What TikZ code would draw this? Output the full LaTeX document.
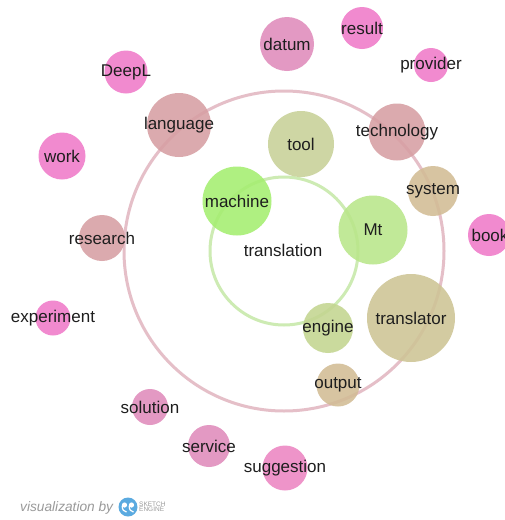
\documentclass[tikz,border=0pt]{standalone}
\usepackage{fontspec}
\setmainfont{Liberation Sans}
\definecolor{pinkA}{HTML}{F07AC9}
\definecolor{pinkB}{HTML}{E08BBB}
\definecolor{pinkC}{HTML}{EC86C2}
\definecolor{roseC}{HTML}{D79FA3}
\definecolor{tanC}{HTML}{D2BC95}
\definecolor{khakiC}{HTML}{CEC495}
\definecolor{oliveC}{HTML}{C8D198}
\definecolor{engC}{HTML}{C3D590}
\definecolor{mtC}{HTML}{B9E68A}
\definecolor{machC}{HTML}{A5EE70}
\definecolor{innerC}{HTML}{CDEBB3}
\definecolor{outerC}{HTML}{E5BFC8}
\definecolor{txtC}{HTML}{1E1E1E}
\definecolor{footC}{HTML}{9A9A9A}
\definecolor{logoC}{HTML}{5AAAE0}
\tikzset{
  lbl/.style={font=\fontsize{17}{20}\selectfont, text=txtC, inner sep=0pt},
  ring/.style={line width=3pt, fill=none},
  bubfill/.style={fill opacity=0.88},
}
\begin{document}
\begin{tikzpicture}[x=1pt,y=-1pt]
\useasboundingbox[fill=white] (0,0) rectangle (505,520);
% rings
\draw[ring, draw=outerC] (284,251) circle (160);
\draw[ring, draw=innerC] (284,251) circle (74);
% bubble discs
\foreach \x/\y/\r/\c in {287/44/27/pinkB, 362/28/21/pinkA, 431/65/17/pinkA, 126/72/21.5/pinkA,
  179/125/32/roseC, 301/144/33/oliveC, 397/132/28.5/roseC, 62/156/23.5/pinkA,
  433/191/25/tanC, 237/201/34.5/machC, 373/230/34.5/mtC, 489/235/21/pinkA,
  102/238/23/roseC, 53/318/17.5/pinkA, 411/318/44/khakiC, 328/328/25/engC,
  338/385/21.5/tanC, 150/407/18/pinkB, 209/446/21/pinkB, 285/468/22.5/pinkC}
  \fill[\c, bubfill] (\x,\y) circle (\r);
% labels
\node[lbl] (datum) at (287,44) {datum};
\node[lbl] (result) at (362,28) {result};
\node[lbl] (provider) at (431,65) {provider};
\node[lbl] (deepl) at (126,72) {DeepL};
\node[lbl] (language) at (179,125) {language};
\node[lbl] (tool) at (301,144) {tool};
\node[lbl] (technology) at (397,132) {technology};
\node[lbl] (work) at (62,156) {work};
\node[lbl] (system) at (433,191) {system};
\node[lbl] (machine) at (237,201) {machine};
\node[lbl] (mt) at (373,230) {Mt};
\node[lbl] (book) at (490,235) {book};
\node[lbl] (research) at (102,238) {research};
\node[lbl] (translation) at (283,250) {translation};
\node[lbl] (experiment) at (53,318) {experiment};
\node[lbl] (translator) at (411,318) {translator};
\node[lbl] (engine) at (328,328) {engine};
\node[lbl] (output) at (338,385) {output};
\node[lbl] (solution) at (150,407) {solution};
\node[lbl] (service) at (209,446) {service};
\node[lbl] (suggestion) at (285,468) {suggestion};
% footer
\node[font=\fontsize{13.7}{16}\selectfont\itshape, text=footC, anchor=west, inner sep=0pt] (foot) at (20,508) {visualization by};
\fill[logoC] (128,507) circle (9.5);
\fill[white] (124.5,505) circle (2.6);
\fill[white] (131.5,505) circle (2.6);
\draw[white, line width=1.2pt] (122.2,505.5) .. controls (122,510) and (124,511.5) .. (126.5,512);
\draw[white, line width=1.2pt] (129.2,505.5) .. controls (129,510) and (131,511.5) .. (133.5,512);
\node[font=\fontsize{6.5}{7}\selectfont, text=footC, anchor=west, inner sep=0pt, align=left] (logo) at (139,507) {SKETCH\\[-1.5pt]ENGINE};
\end{tikzpicture}
\end{document}
